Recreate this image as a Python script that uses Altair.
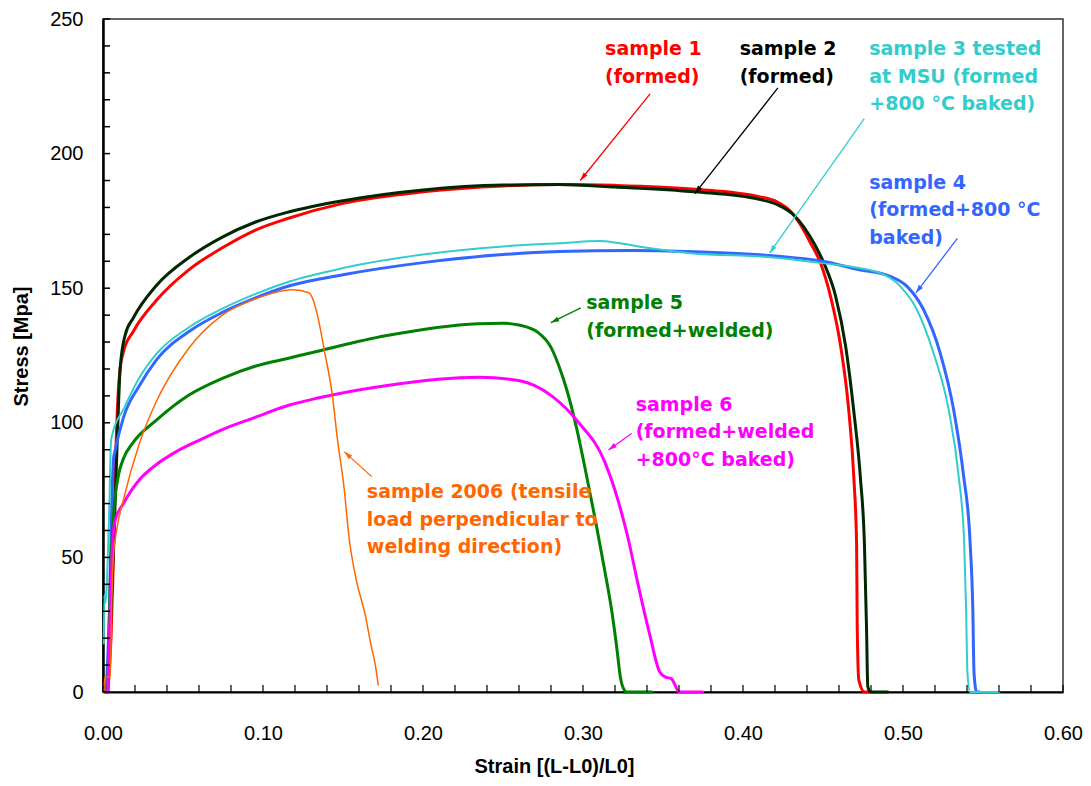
import math
import altair as alt
import pandas as pd

# ---------------- data ----------------
s1_x = [0.003, 0.005, 0.0065, 0.0078, 0.009, 0.0105, 0.0128, 0.019, 0.0334, 0.054, 0.0746, 0.095, 0.116,
        0.15, 0.2, 0.25, 0.285, 0.32, 0.37, 0.41, 0.4215, 0.4298, 0.436, 0.4423, 0.4485, 0.4547, 0.461,
        0.4662, 0.4693, 0.471, 0.4714, 0.4724, 0.4759, 0.478]
s1_y = [0, 20, 50, 85, 105, 119, 126.4, 134, 145.5, 157, 165, 171.5, 176,
        181.5, 185.8, 188, 188.5, 188.2, 186.8, 184, 182, 178.5, 173.5, 166.7, 159.3, 147, 128.6,
        104, 79.4, 54.8, 24, 4.4, 0, 0]

s2_x = [0.0025, 0.005, 0.007, 0.009, 0.0107, 0.0138, 0.019, 0.0334, 0.054, 0.0746, 0.095, 0.116,
        0.15, 0.2, 0.25, 0.285, 0.32, 0.37, 0.41, 0.4215, 0.432, 0.4444, 0.4506, 0.4579, 0.4641,
        0.4693, 0.4734, 0.4759, 0.4772, 0.478, 0.4797, 0.4906]
s2_y = [0, 30, 60, 95, 120, 132.5, 139, 151, 161.5, 169, 174.5, 178.3,
        182.5, 186.5, 188.3, 188.5, 187.6, 185.8, 183, 181, 177, 166.7, 159.3, 147, 128.6,
        104, 79.4, 54.8, 24, 2, 0, 0]

s3_x = [0.0005, 0.0008, 0.0012, 0.002, 0.004, 0.005, 0.006, 0.0128, 0.023, 0.0334, 0.054, 0.0746,
        0.095, 0.116, 0.15, 0.2, 0.25, 0.285, 0.31, 0.322, 0.34, 0.367, 0.417, 0.4465, 0.4838,
        0.4983, 0.5087, 0.519, 0.5285, 0.5347, 0.5382, 0.5394, 0.5403, 0.5419, 0.56]
s3_y = [18, 36, 33, 36, 70, 93, 96, 105, 117, 125.6, 135.6, 142.4,
        147.8, 152.4, 157.5, 162.5, 165.5, 166.7, 167.5, 166.8, 165, 163, 161.5, 159.5, 156,
        150.7, 142, 126, 105, 80.6, 56, 31.5, 7, 0, 0]

s4_x = [0.002, 0.004, 0.0055, 0.0066, 0.0076, 0.0128, 0.023, 0.0334, 0.054, 0.0746, 0.095, 0.116,
        0.15, 0.2, 0.25, 0.285, 0.33, 0.37, 0.42, 0.45, 0.4714, 0.492, 0.5025, 0.5129, 0.5232,
        0.5316, 0.5378, 0.5419, 0.5436, 0.5444, 0.546, 0.548]
s4_y = [0, 30, 70, 86.7, 89.8, 102, 114, 123.4, 134, 141, 146.3, 150.8,
        155, 159.5, 162.5, 163.6, 164, 163.5, 162, 160, 157, 154.4, 150.7, 142, 126,
        105, 80.6, 56, 31.5, 7, 0, 0]

s5_x = [0.003, 0.0045, 0.0065, 0.0097, 0.0128, 0.019, 0.0334, 0.054, 0.0746, 0.095, 0.116, 0.135,
        0.1766, 0.2347, 0.25, 0.26, 0.272, 0.28, 0.285, 0.29, 0.296, 0.302, 0.308, 0.313, 0.318,
        0.321, 0.3235, 0.326, 0.327, 0.343]
s5_y = [0, 40, 65, 80.6, 86.7, 92.8, 101, 110.4, 116.5, 121, 124, 126.7,
        132.3, 136.8, 137, 136.3, 133.5, 128, 121, 112, 98, 81, 63, 47, 30,
        17, 5, 0.5, 0, 0]

s6_x = [0.003, 0.0045, 0.006, 0.0076, 0.0128, 0.023, 0.0334, 0.045, 0.06, 0.0746, 0.095, 0.116, 0.135,
        0.1766, 0.2347, 0.2597, 0.2804, 0.297, 0.3136, 0.322, 0.3281, 0.3344, 0.3416, 0.3479,
        0.3515, 0.3551, 0.3603, 0.3748]
s6_y = [0, 30, 55, 63.8, 70, 79, 84.5, 89, 93.5, 97.5, 102, 106.5, 109.3,
        113.8, 116.9, 115.7, 110, 100.3, 85.5, 71, 57.3, 40, 21.6, 7.5,
        5.5, 5, 0, 0]

s7_x = [0.0005, 0.0012, 0.0045, 0.0055, 0.0065, 0.0085, 0.0128, 0.023, 0.0334, 0.054, 0.0746, 0.095,
        0.104, 0.116, 0.1185, 0.1289, 0.132, 0.1351, 0.1382, 0.1434, 0.1465, 0.1507, 0.1538, 0.158,
        0.1642, 0.1673, 0.1704, 0.172]
s7_y = [0, 5.6, 5.6, 34, 50, 60, 71.5, 92.8, 108, 128, 140, 146,
        147.8, 149.3, 149.4, 148.2, 144.5, 137, 127.3, 110, 94, 75.7, 57.3, 42.5,
        27.8, 18, 9.3, 2.6]

# annotation texts, anchor (first-line baseline) and arrow start / tip, in data units
ann_text = [
    "sample 1\n(formed)",
    "sample 2\n(formed)",
    "sample 3 tested\nat MSU (formed\n+800 °C baked)",
    "sample 4\n(formed+800 °C\nbaked)",
    "sample 5\n(formed+welded)",
    "sample 6\n(formed+welded\n+800°C baked)",
    "sample 2006 (tensile\nload perpendicular to\nwelding direction)",
]
ann_x = [0.3138, 0.3979, 0.4789, 0.4789, 0.302, 0.3329, 0.1649]
ann_y = [236.5, 236.5, 236.5, 186.9, 142.1, 104.4, 72.0]
arr_x0 = [0.3419, 0.4218, 0.4758, 0.534, 0.2986, 0.3304, 0.168]
arr_y0 = [222.2, 224.4, 213.0, 168.5, 142.7, 96.0, 80.0]
arr_x1 = [0.2983, 0.3699, 0.4166, 0.508, 0.2799, 0.3159, 0.1508]
arr_y1 = [190.0, 185.1, 163.0, 148.2, 137.2, 89.9, 89.2]

x_ticks = [round(0.02 * i, 2) for i in range(31)]
y_ticks = [10 * i for i in range(26)]
x_labels = [0, 0.1, 0.2, 0.3, 0.4, 0.5, 0.6]
y_labels = [0, 50, 100, 150, 200, 250]

# ---------------- styling ----------------
W, H = 960, 673
XMAX, YMAX = 0.6, 250
colors = ["#FF0000", "#002800", "#33CCCC", "#3366FF", "#008000", "#FF00FF", "#FF6600"]
text_colors = ["#FF0000", "#000000", "#33CCCC", "#3366FF", "#008000", "#FF00FF", "#FF6600"]
widths = [3, 3, 2, 3, 3, 3, 1.5]
draw_order = [0, 1, 3, 2, 4, 5, 6]

series = [(s1_x, s1_y), (s2_x, s2_y), (s3_x, s3_y), (s4_x, s4_y),
          (s5_x, s5_y), (s6_x, s6_y), (s7_x, s7_y)]

xs = alt.Scale(domain=[0, XMAX], nice=False, zero=False)
ys = alt.Scale(domain=[0, YMAX], nice=False, zero=False)
LBL_FONT = "Liberation Sans"
ANN_FONT = "DejaVu Sans"

x_axis = alt.Axis(values=x_labels, format=".2f", ticks=False, grid=False, labelFlush=False,
                  labelOverlap=False, labelPadding=31, labelFontSize=20, labelFont=LBL_FONT,
                  labelColor="black", domainColor="black", domainWidth=2,
                  title="Strain [(L-L0)/L0]", titleFont=LBL_FONT, titleFontSize=20,
                  titleFontWeight="bold", titleColor="black", titleX=451, titleY=74,
                  titleAlign="center", titleBaseline="middle")
y_axis = alt.Axis(values=y_labels, format="d", ticks=False, grid=False, labelFlush=False,
                  labelOverlap=False, labelPadding=20, labelFontSize=20, labelFont=LBL_FONT,
                  labelColor="black", domainColor="black", domainWidth=2.5,
                  title="Stress [Mpa]", titleFont=LBL_FONT, titleFontSize=20,
                  titleFontWeight="bold", titleColor="black", titleX=-82, titleY=327,
                  titleAngle=270, titleAlign="center", titleBaseline="middle")


def X(field):
    return alt.X(field, scale=xs, axis=x_axis)


def Y(field):
    return alt.Y(field, scale=ys, axis=y_axis)


layers = []
for k in draw_order:
    xv, yv = series[k]
    df = pd.DataFrame({"strain": xv, "stress": yv, "i": list(range(len(xv)))})
    layers.append(
        alt.Chart(df).mark_line(color=colors[k], strokeWidth=widths[k], interpolate="monotone",
                                strokeJoin="round", strokeCap="round")
        .encode(x=X("strain:Q"), y=Y("stress:Q"), order="i:Q")
    )

# inward tick marks
xt = pd.DataFrame({"v": x_ticks})
layers.append(alt.Chart(xt).mark_rule(color="black", strokeWidth=1.2).encode(
    x=X("v:Q"), y=alt.value(H), y2=alt.value(H - 7)))
yt = pd.DataFrame({"v": y_ticks})
layers.append(alt.Chart(yt).mark_rule(color="black", strokeWidth=1.5).encode(
    y=Y("v:Q"), x=alt.value(0), x2=alt.value(7)))

# annotations with arrows
head = "M0,0L-0.6,2L0.6,2Z"
for k in range(len(ann_text)):
    dxp = (arr_x1[k] - arr_x0[k]) / XMAX * W
    dyp = -(arr_y1[k] - arr_y0[k]) / YMAX * H
    ang = math.degrees(math.atan2(dxp, -dyp)) % 360
    adf = pd.DataFrame({"x0": [arr_x0[k]], "y0": [arr_y0[k]], "x1": [arr_x1[k]], "y1": [arr_y1[k]]})
    layers.append(alt.Chart(adf).mark_rule(color=text_colors[k], strokeWidth=1.3).encode(
        x=X("x0:Q"), y=Y("y0:Q"), x2="x1:Q", y2="y1:Q"))
    layers.append(alt.Chart(adf).mark_point(shape=head, filled=True, opacity=1, size=70,
                                            color=text_colors[k], angle=ang).encode(
        x=X("x1:Q"), y=Y("y1:Q")))
    tdf = pd.DataFrame({"x": [ann_x[k]], "y": [ann_y[k]], "t": [ann_text[k]]})
    layers.append(alt.Chart(tdf).mark_text(align="left", baseline="alphabetic", font=ANN_FONT,
                                           fontWeight="bold", fontSize=19, lineHeight=27.5,
                                           lineBreak="\n", color=text_colors[k]).encode(
        x=X("x:Q"), y=Y("y:Q"), text="t:N"))

chart = (alt.layer(*layers)
         .properties(width=W, height=H, autosize=alt.AutoSizeParams(type="none"),
                     padding={"left": 95, "top": 11, "right": 20, "bottom": 86},
                     background="white")
         .configure_view(stroke="#333333", strokeWidth=1.5))

chart.save("out.html", embed_options={"renderer": "svg", "actions": False})
